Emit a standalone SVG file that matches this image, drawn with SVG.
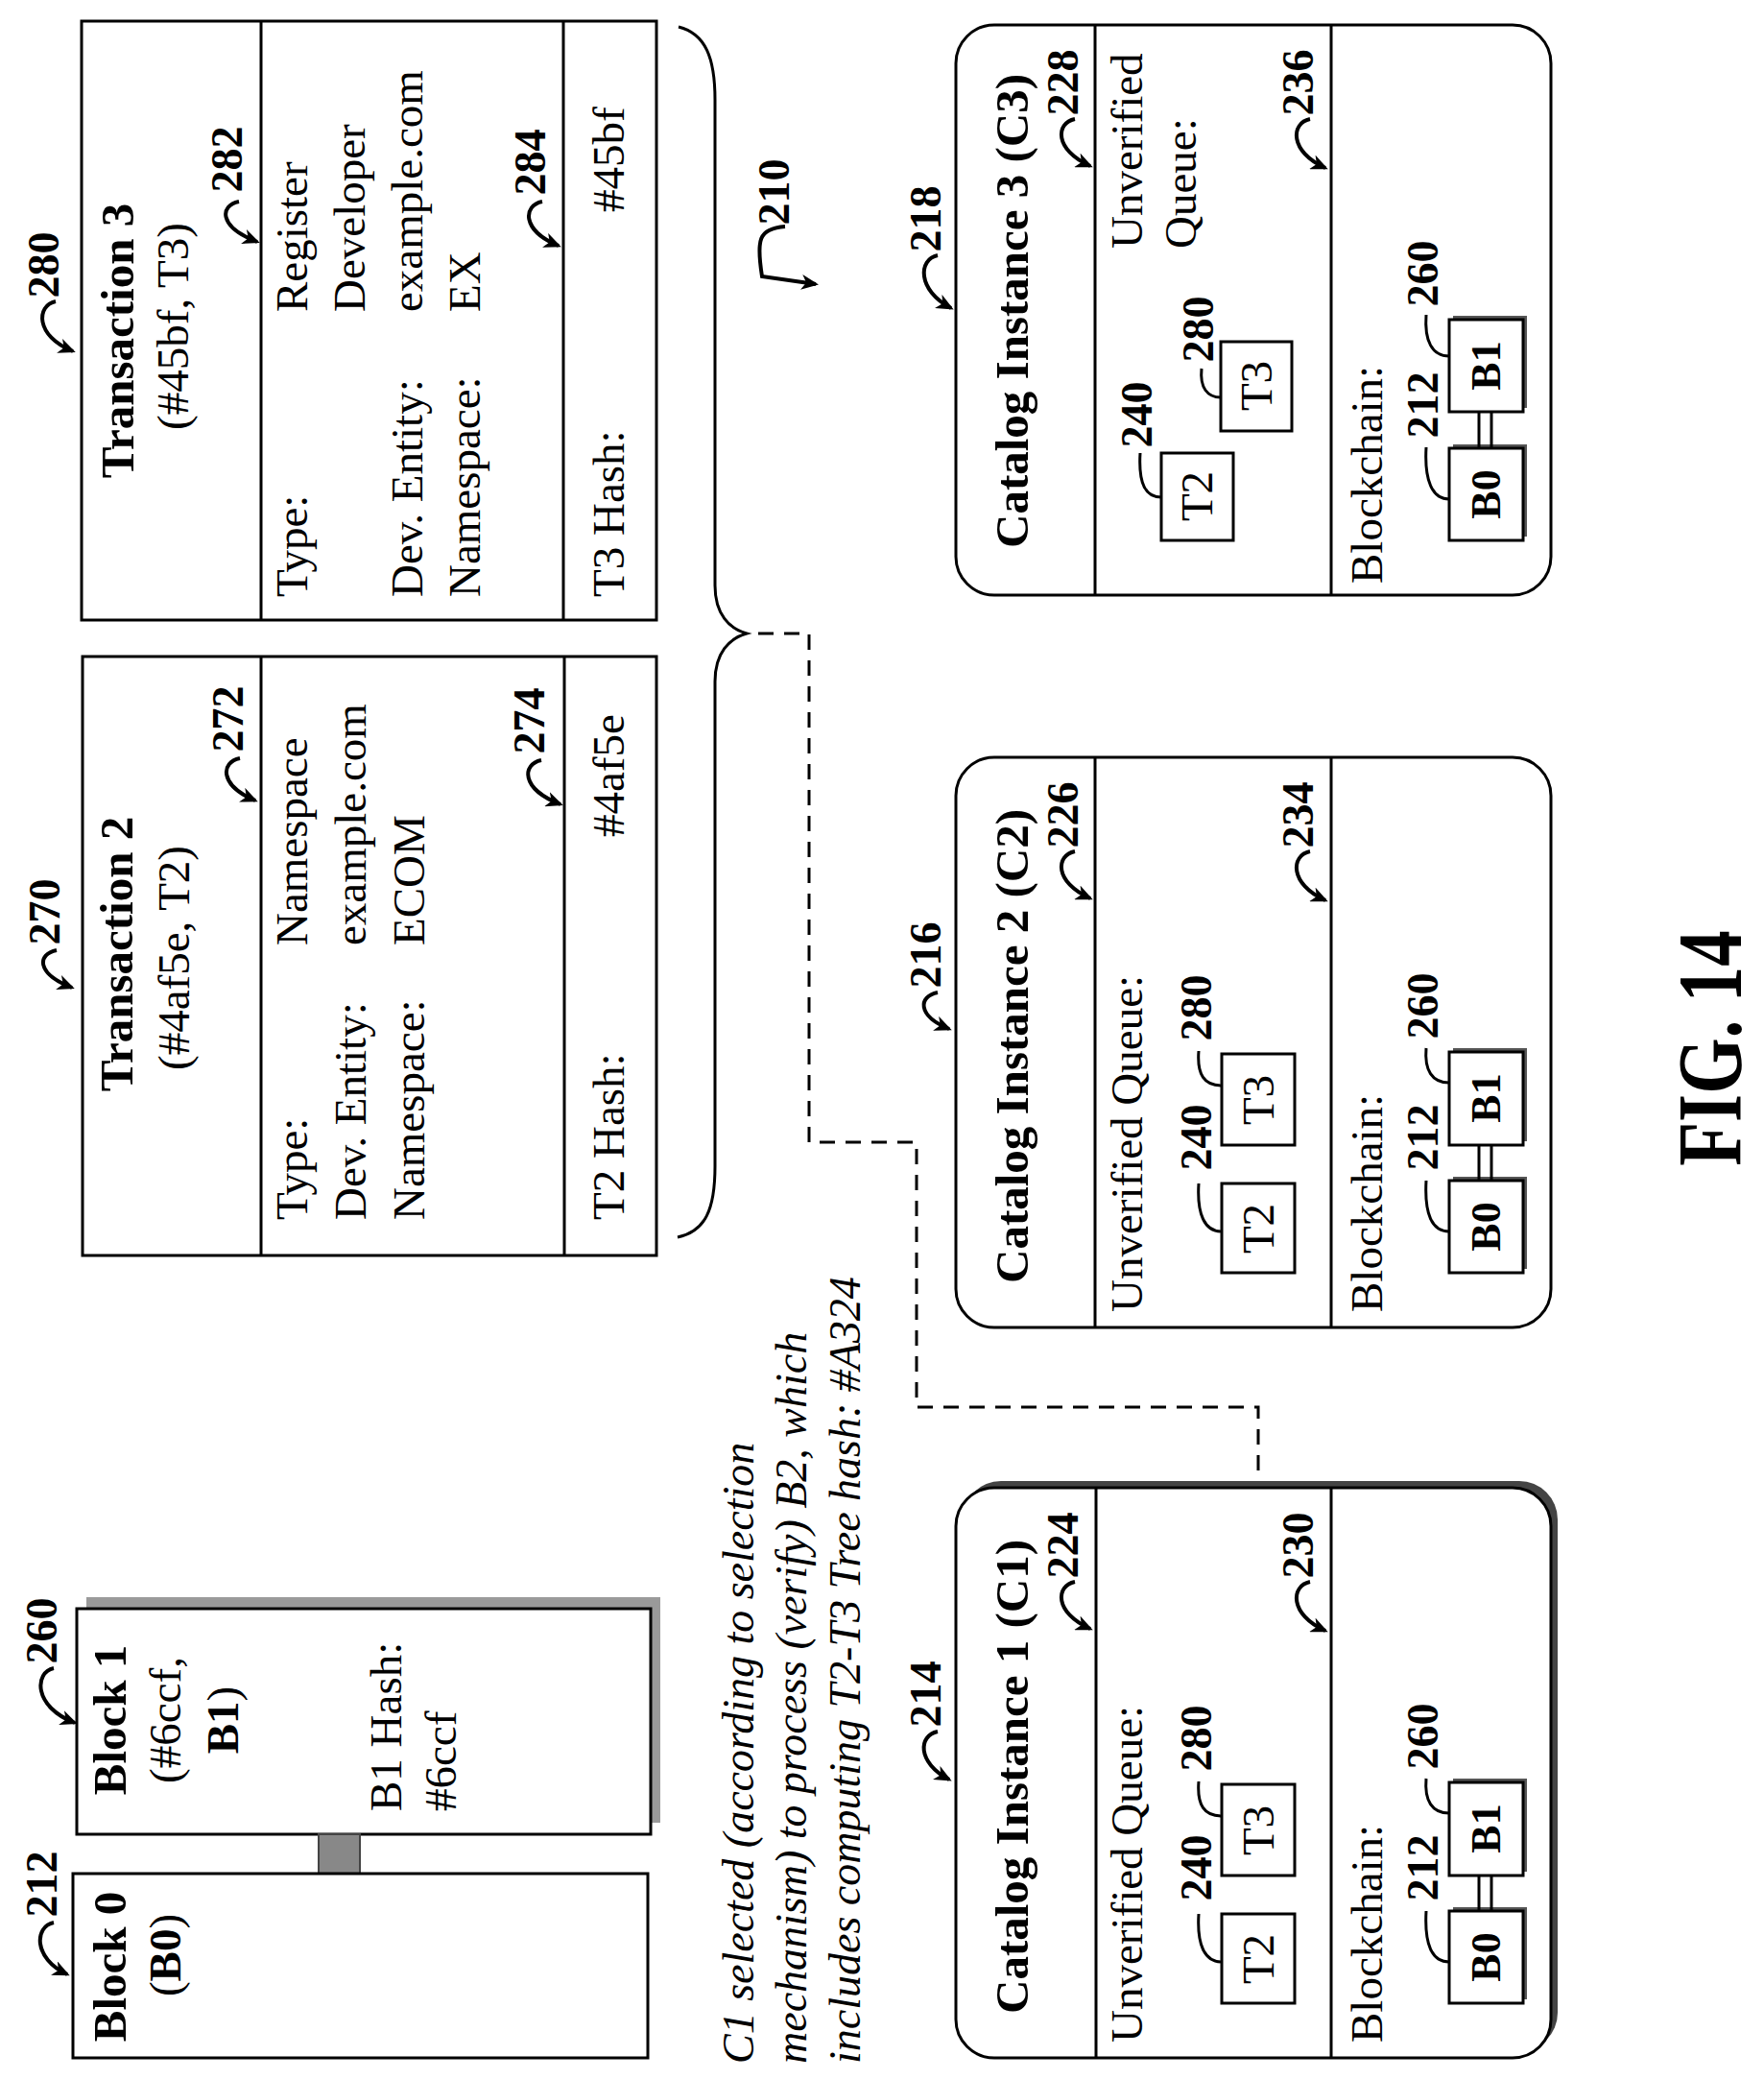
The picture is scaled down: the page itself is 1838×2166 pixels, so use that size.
<svg xmlns="http://www.w3.org/2000/svg" width="1838" height="2166" viewBox="0 0 1838 2166">
<style>
text{font-family:"Liberation Serif","Times New Roman",serif;fill:#000}
.r{font-size:47px}
.b{font-size:49px;font-weight:bold}
.l{font-size:46px;font-weight:bold}
.s{font-size:44px;font-weight:bold}
.i{font-size:46px;font-style:italic}
.m{text-anchor:middle}
.box{fill:#fff;stroke:#000;stroke-width:3}
.ln{stroke:#000;stroke-width:3;fill:none}
.ld{stroke:#000;stroke-width:4;fill:none;marker-end:url(#ah)}
.lq{stroke:#000;stroke-width:3;fill:none}
.dash{stroke:#000;stroke-width:3;fill:none;stroke-dasharray:16 11}
.sh{fill:#555}
</style>
<defs>
<marker id="ah" markerWidth="18" markerHeight="16" refX="15" refY="8" orient="auto" markerUnits="userSpaceOnUse" viewBox="0 0 18 16"><path d="M0,0 L18,8 L0,16 L5,8 Z" fill="#000"/></marker>
</defs>

<g id="connectors">
<path class="ln" d="M707,28 C735,35 745,60 745,104 L745,610 C745,640 760,655 778,660 C760,665 745,680 745,710 L745,1215 C745,1260 735,1283 706,1289"/>
<path class="dash" d="M790,660 L843,660 L843,1190 L955,1190 L955,1466 L1311,1466 L1311,1544"/>
<path class="ld" d="M818,236 C790,238 788,250 794,288 L850,296"/>
<text class="l m" transform="translate(822,200) rotate(-90)">210</text>
</g>

<g id="t3">
<rect class="box" x="85" y="22" width="599" height="624"/>
<line class="ln" x1="272" y1="22" x2="272" y2="646"/>
<line class="ln" x1="587" y1="22" x2="587" y2="646"/>
<text class="b m" transform="translate(139,355) rotate(-90)">Transaction 3</text>
<text class="r m" transform="translate(196,340) rotate(-90)">(#45bf, T3)</text>
<text class="r" transform="translate(320,622) rotate(-90)">Type:</text>
<text class="r" transform="translate(440,622) rotate(-90)">Dev. Entity:</text>
<text class="r" transform="translate(500,622) rotate(-90)">Namespace:</text>
<text class="r" transform="translate(320,325) rotate(-90)">Register</text>
<text class="r" transform="translate(380,325) rotate(-90)">Developer</text>
<text class="r" transform="translate(440,325) rotate(-90)">example.com</text>
<text class="r" transform="translate(500,325) rotate(-90)">EX</text>
<text class="r" transform="translate(650,622) rotate(-90)">T3 Hash:</text>
<text class="r" transform="translate(650,221) rotate(-90)">#45bf</text>
<text class="l m" transform="translate(61,276) rotate(-90)">280</text>
<path class="ld" d="M58,314 C38,318 36,350 76,366"/>
<text class="l m" transform="translate(252,166) rotate(-90)">282</text>
<path class="ld" d="M249,210 C229,214 227,236 268,252"/>
<text class="l m" transform="translate(568,169) rotate(-90)">284</text>
<path class="ld" d="M565,210 C545,214 543,240 582,256"/>
</g>

<g id="t2">
<rect class="box" x="86" y="684" width="598" height="624"/>
<line class="ln" x1="272" y1="684" x2="272" y2="1308"/>
<line class="ln" x1="588" y1="684" x2="588" y2="1308"/>
<text class="b m" transform="translate(138,994) rotate(-90)">Transaction 2</text>
<text class="r m" transform="translate(197,998) rotate(-90)">(#4af5e, T2)</text>
<text class="r" transform="translate(320,1271) rotate(-90)">Type:</text>
<text class="r" transform="translate(381,1271) rotate(-90)">Dev. Entity:</text>
<text class="r" transform="translate(442,1271) rotate(-90)">Namespace:</text>
<text class="r" transform="translate(320,985) rotate(-90)">Namespace</text>
<text class="r" transform="translate(381,985) rotate(-90)">example.com</text>
<text class="r" transform="translate(442,985) rotate(-90)">ECOM</text>
<text class="r" transform="translate(650,1271) rotate(-90)">T2 Hash:</text>
<text class="r" transform="translate(650,872) rotate(-90)">#4af5e</text>
<text class="l m" transform="translate(62,950) rotate(-90)">270</text>
<path class="ld" d="M59,990 C39,994 37,1014 75,1029"/>
<text class="l m" transform="translate(253,749) rotate(-90)">272</text>
<path class="ld" d="M250,790 C230,794 228,818 266,834"/>
<text class="l m" transform="translate(567,751) rotate(-90)">274</text>
<path class="ld" d="M564,792 C544,796 542,822 584,838"/>
</g>

<g id="block1">
<rect x="90" y="1664" width="598" height="235" fill="#9a9a9a"/>
<rect class="box" x="80" y="1676" width="598" height="235"/>
<text class="b m" transform="translate(131,1792) rotate(-90)">Block 1</text>
<text class="r m" transform="translate(188,1792) rotate(-90)">(#6ccf,</text>
<text class="r m" transform="translate(248,1792) rotate(-90)"><tspan font-weight="bold">B1</tspan>)</text>
<text class="r" transform="translate(418,1887) rotate(-90)">B1 Hash:</text>
<text class="r" transform="translate(475,1887) rotate(-90)">#6ccf</text>
<text class="l m" transform="translate(59,1699) rotate(-90)">260</text>
<path class="ld" d="M56,1738 C36,1742 34,1778 78,1795"/>
</g>

<g id="block0">
<rect x="332" y="1911" width="43" height="41" fill="#888" stroke="#444" stroke-width="2"/>
<rect class="box" x="76" y="1952" width="599" height="192"/>
<text class="b m" transform="translate(131,2049) rotate(-90)">Block 0</text>
<text class="r m" transform="translate(188,2037) rotate(-90)">(<tspan font-weight="bold">B0</tspan>)</text>
<text class="l m" transform="translate(59,1963) rotate(-90)">212</text>
<path class="ld" d="M56,2003 C36,2007 34,2040 70,2057"/>
</g>

<g id="note">
<text class="i" transform="translate(785,2150) rotate(-90)">C1 selected (according to selection</text>
<text class="i" transform="translate(840,2150) rotate(-90)">mechanism) to process (verify) B2, which</text>
<text class="i" transform="translate(896,2150) rotate(-90)">includes computing T2-T3 Tree hash: #A324</text>
</g>

<g id="c3">
<rect class="box" x="996" y="26" width="620" height="594" rx="40"/>
<line class="ln" x1="1141" y1="26" x2="1141" y2="620"/>
<line class="ln" x1="1387" y1="26" x2="1387" y2="620"/>
<text class="b" transform="translate(1071,571) rotate(-90)">Catalog Instance 3 (C3)</text>
<text class="l m" transform="translate(1123,86) rotate(-90)">228</text>
<path class="ld" d="M1120,124 C1100,128 1098,156 1136,173"/>
<text class="l m" transform="translate(1368,86) rotate(-90)">236</text>
<path class="ld" d="M1365,124 C1345,128 1343,158 1381,175"/>
<text class="r" transform="translate(1190,259) rotate(-90)">Unverified</text>
<text class="r" transform="translate(1246,259) rotate(-90)">Queue:</text>
<rect class="box" x="1210" y="472" width="75" height="91"/>
<text class="r m" transform="translate(1263,517) rotate(-90)">T2</text>
<rect class="box" x="1272" y="356" width="74" height="93"/>
<text class="r m" transform="translate(1325,402) rotate(-90)">T3</text>
<text class="l m" transform="translate(1200,432) rotate(-90)">240</text>
<path class="lq" d="M1188,472 C1186,505 1194,518 1210,518"/>
<text class="l m" transform="translate(1264,343) rotate(-90)">280</text>
<path class="lq" d="M1252,384 C1250,404 1258,414 1272,414"/>
<text class="r" transform="translate(1440,608) rotate(-90)">Blockchain:</text>
<rect class="sh" x="1514" y="463" width="77" height="96"/>
<rect class="box" x="1510" y="467" width="77" height="96"/>
<text class="s m" transform="translate(1563,515) rotate(-90)">B0</text>
<rect class="sh" x="1514" y="329" width="77" height="96"/>
<rect class="box" x="1510" y="333" width="77" height="96"/>
<text class="s m" transform="translate(1563,381) rotate(-90)">B1</text>
<line class="ln" x1="1541" y1="429" x2="1541" y2="467"/>
<line class="ln" x1="1554" y1="429" x2="1554" y2="467"/>
<text class="l m" transform="translate(1498,422) rotate(-90)">212</text>
<path class="lq" d="M1486,466 C1484,500 1492,520 1510,520"/>
<text class="l m" transform="translate(1498,285) rotate(-90)">260</text>
<path class="lq" d="M1486,328 C1484,355 1492,371 1510,371"/>
<text class="l m" transform="translate(980,228) rotate(-90)">218</text>
<path class="ld" d="M977,266 C957,270 955,302 991,321"/>
</g>

<g id="c2">
<rect class="box" x="996" y="789" width="620" height="594" rx="40"/>
<line class="ln" x1="1141" y1="789" x2="1141" y2="1383"/>
<line class="ln" x1="1387" y1="789" x2="1387" y2="1383"/>
<text class="b" transform="translate(1071,1337) rotate(-90)">Catalog Instance 2 (C2)</text>
<text class="l m" transform="translate(1123,849) rotate(-90)">226</text>
<path class="ld" d="M1120,887 C1100,891 1098,919 1136,936"/>
<text class="l m" transform="translate(1368,849) rotate(-90)">234</text>
<path class="ld" d="M1365,887 C1345,891 1343,921 1381,938"/>
<text class="r" transform="translate(1190,1367) rotate(-90)">Unverified Queue:</text>
<rect class="box" x="1273" y="1233" width="76" height="93"/>
<text class="r m" transform="translate(1327,1280) rotate(-90)">T2</text>
<rect class="box" x="1273" y="1098" width="76" height="95"/>
<text class="r m" transform="translate(1327,1146) rotate(-90)">T3</text>
<text class="l m" transform="translate(1262,1185) rotate(-90)">240</text>
<path class="lq" d="M1249,1233 C1247,1265 1255,1283 1273,1283"/>
<text class="l m" transform="translate(1262,1050) rotate(-90)">280</text>
<path class="lq" d="M1249,1095 C1247,1120 1255,1131 1273,1131"/>
<text class="r" transform="translate(1440,1367) rotate(-90)">Blockchain:</text>
<rect class="sh" x="1514" y="1226" width="77" height="96"/>
<rect class="box" x="1510" y="1230" width="77" height="96"/>
<text class="s m" transform="translate(1563,1278) rotate(-90)">B0</text>
<rect class="sh" x="1514" y="1092" width="77" height="97"/>
<rect class="box" x="1510" y="1096" width="77" height="97"/>
<text class="s m" transform="translate(1563,1144) rotate(-90)">B1</text>
<line class="ln" x1="1541" y1="1193" x2="1541" y2="1230"/>
<line class="ln" x1="1554" y1="1193" x2="1554" y2="1230"/>
<text class="l m" transform="translate(1498,1185) rotate(-90)">212</text>
<path class="lq" d="M1486,1230 C1484,1265 1492,1283 1510,1283"/>
<text class="l m" transform="translate(1498,1048) rotate(-90)">260</text>
<path class="lq" d="M1486,1092 C1484,1115 1492,1128 1510,1128"/>
<text class="l m" transform="translate(980,995) rotate(-90)">216</text>
<path class="ld" d="M977,1034 C957,1038 955,1058 989,1072"/>
</g>

<g id="c1">
<rect x="1003" y="1543" width="620" height="594" rx="40" fill="#444"/>
<rect class="box" x="996" y="1550" width="620" height="594" rx="40"/>
<line class="ln" x1="1142" y1="1550" x2="1142" y2="2144"/>
<line class="ln" x1="1387" y1="1550" x2="1387" y2="2144"/>
<text class="b" transform="translate(1071,2098) rotate(-90)">Catalog Instance 1 (C1)</text>
<text class="l m" transform="translate(1123,1610) rotate(-90)">224</text>
<path class="ld" d="M1120,1648 C1100,1652 1098,1680 1136,1697"/>
<text class="l m" transform="translate(1368,1610) rotate(-90)">230</text>
<path class="ld" d="M1365,1648 C1345,1652 1343,1682 1381,1699"/>
<text class="r" transform="translate(1190,2128) rotate(-90)">Unverified Queue:</text>
<rect class="box" x="1273" y="1994" width="76" height="93"/>
<text class="r m" transform="translate(1327,2041) rotate(-90)">T2</text>
<rect class="box" x="1273" y="1859" width="76" height="95"/>
<text class="r m" transform="translate(1327,1907) rotate(-90)">T3</text>
<text class="l m" transform="translate(1262,1946) rotate(-90)">240</text>
<path class="lq" d="M1249,1994 C1247,2026 1255,2044 1273,2044"/>
<text class="l m" transform="translate(1262,1811) rotate(-90)">280</text>
<path class="lq" d="M1249,1856 C1247,1881 1255,1892 1273,1892"/>
<text class="r" transform="translate(1440,2128) rotate(-90)">Blockchain:</text>
<rect class="sh" x="1514" y="1987" width="77" height="96"/>
<rect class="box" x="1510" y="1991" width="77" height="96"/>
<text class="s m" transform="translate(1563,2039) rotate(-90)">B0</text>
<rect class="sh" x="1514" y="1853" width="77" height="97"/>
<rect class="box" x="1510" y="1857" width="77" height="97"/>
<text class="s m" transform="translate(1563,1905) rotate(-90)">B1</text>
<line class="ln" x1="1541" y1="1954" x2="1541" y2="1991"/>
<line class="ln" x1="1554" y1="1954" x2="1554" y2="1991"/>
<text class="l m" transform="translate(1498,1946) rotate(-90)">212</text>
<path class="lq" d="M1486,1991 C1484,2026 1492,2044 1510,2044"/>
<text class="l m" transform="translate(1498,1809) rotate(-90)">260</text>
<path class="lq" d="M1486,1853 C1484,1876 1492,1889 1510,1889"/>
<text class="l m" transform="translate(980,1765) rotate(-90)">214</text>
<path class="ld" d="M977,1804 C957,1808 955,1836 989,1854"/>
</g>

<g id="fig">
<text font-size="96" font-weight="bold" class="m" transform="translate(1814,1092) rotate(-90) scale(0.78,1)">FIG. 14</text>
</g>
</svg>
